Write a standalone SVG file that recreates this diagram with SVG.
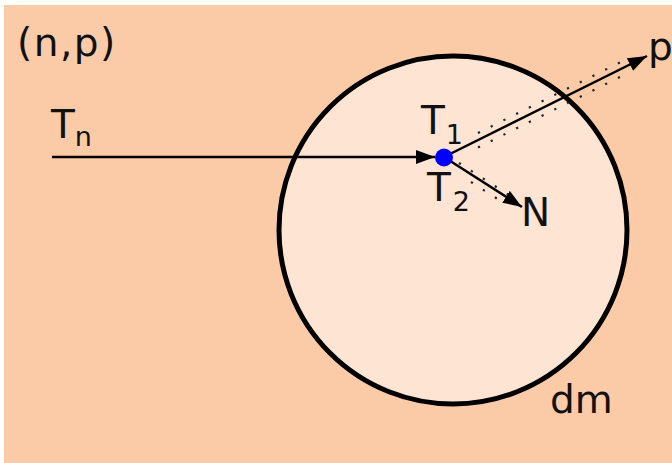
<svg xmlns="http://www.w3.org/2000/svg" width="672" height="463" viewBox="0 0 672 463">
  <defs>
    <style>
      .lbl { font-family: "DejaVu Sans", Verdana, sans-serif; font-size: 39px; fill: #111; }
      .sub { font-size: 27px; }
      .conn { stroke: #000; stroke-width: 2.5; fill: none; }
      .dots { stroke: #222; stroke-width: 2.2; fill: none; stroke-dasharray: 2.2 12; }
    </style>
    <marker id="arrow" viewBox="0 0 19 14" refX="19" refY="7" markerWidth="19" markerHeight="14" markerUnits="userSpaceOnUse" orient="auto">
      <path d="M0,0 L19,7 L0,14 Z" fill="#000"/>
    </marker>
  </defs>
  <rect x="0" y="0" width="672" height="463" fill="#ffffff"/>
  <rect x="4" y="5" width="668" height="458" fill="#FBCBA8"/>

  <g id="dm-region">
    <circle cx="453" cy="230" r="174" fill="#FDE4D3" stroke="#000" stroke-width="5"/>
    <text class="lbl" x="550" y="413">dm</text>
  </g>

  <g id="title">
    <text class="lbl" x="17" y="56" font-size="40" letter-spacing="1.5">(n,p)</text>
  </g>

  <g id="connectors">
    <line class="conn" x1="52" y1="157" x2="435" y2="157" marker-end="url(#arrow)"/>
    <line class="conn" x1="444" y1="157" x2="647" y2="56" marker-end="url(#arrow)"/>
    <line class="conn" x1="444" y1="157" x2="522" y2="207" marker-end="url(#arrow)"/>
    <line class="dots" x1="478" y1="133" x2="626" y2="59.5"/>
    <line class="dots" x1="478" y1="147.5" x2="626" y2="74"/>
    <line class="dots" x1="459" y1="163" x2="508" y2="194.5"/>
    <line class="dots" x1="471" y1="182" x2="500" y2="200.5"/>
  </g>

  <g id="collision">
    <circle cx="444" cy="157.5" r="9" fill="#0000FF"/>
  </g>

  <g id="Tn">
    <text class="lbl" x="51" y="138">T<tspan class="sub" dy="8">n</tspan></text>
  </g>
  <g id="T1">
    <text class="lbl" x="421" y="134">T<tspan class="sub" dx="1" dy="10">1</tspan></text>
  </g>
  <g id="T2">
    <text class="lbl" x="427" y="201">T<tspan class="sub" dx="2" dy="10">2</tspan></text>
  </g>
  <g id="p">
    <text class="lbl" x="648" y="60">p</text>
  </g>
  <g id="N">
    <text class="lbl" x="521" y="226">N</text>
  </g>
</svg>
